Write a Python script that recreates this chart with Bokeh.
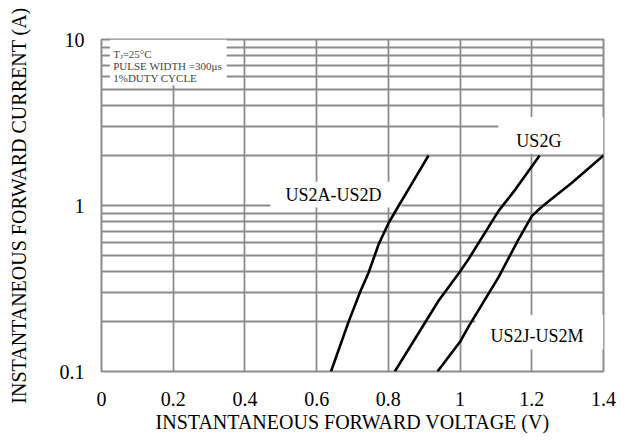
from bokeh.plotting import figure
from bokeh.models import FixedTicker, Label
from bokeh.embed import file_html
from bokeh.resources import INLINE

# ---------------- data ----------------
x_ticks = [0, 0.2, 0.4, 0.6, 0.8, 1.0, 1.2, 1.4]
x_tick_labels = ["0", "0.2", "0.4", "0.6", "0.8", "1", "1.2", "1.4"]
y_ticks = [0.1, 1, 10]
y_tick_labels = ["0.1", "1", "10"]
y_grid = [0.1, 0.2, 0.3, 0.4, 0.5, 0.6, 0.7, 0.8, 0.9,
          1, 2, 3, 4, 5, 6, 7, 8, 9, 10]

us2a_v = [0.640, 0.689, 0.721, 0.745, 0.773, 0.801, 0.828, 0.861, 0.912]
us2a_i = [0.1, 0.199, 0.300, 0.395, 0.584, 0.787, 0.99, 1.305, 2.0]

us2g_v = [0.818, 0.94, 1.0, 1.024, 1.107, 1.154, 1.222]
us2g_i = [0.1, 0.267, 0.40, 0.477, 0.925, 1.247, 2.0]

us2j_v = [0.937, 1.0, 1.024, 1.107, 1.163, 1.200, 1.225, 1.247, 1.312, 1.40]
us2j_i = [0.1, 0.151, 0.187, 0.369, 0.625, 0.863, 0.97, 1.06, 1.37, 2.0]

series_names = ["US2A-US2D", "US2G", "US2J-US2M"]
note_lines = ["PULSE WIDTH =300\u03bcs", "1%DUTY CYCLE"]

FONT = "Liberation Serif"
GRID = "#8c8c8c"

p = figure(width=616, height=435, x_range=(0, 1.4), y_range=(0.1, 10),
           y_axis_type="log", output_backend="svg", toolbar_location=None,
           min_border_left=101, min_border_right=13, min_border_top=39,
           min_border_bottom=62)
p.background_fill_color = "white"
p.border_fill_color = "white"
p.outline_line_color = GRID
p.outline_line_width = 2

# axes
p.xaxis.ticker = FixedTicker(ticks=x_ticks)
p.xaxis.major_label_overrides = {t: l for t, l in zip(x_ticks, x_tick_labels)}
p.yaxis.ticker = FixedTicker(ticks=y_ticks)
p.yaxis.major_label_overrides = {t: l for t, l in zip(y_ticks, y_tick_labels)}
for ax in (p.xaxis, p.yaxis):
    ax.axis_line_color = None
    ax.major_tick_line_color = None
    ax.minor_tick_line_color = None
    ax.major_label_text_font = FONT
    ax.major_label_text_font_size = "20px"
    ax.major_label_text_color = "black"
    ax.axis_label_text_font = FONT
    ax.axis_label_text_font_size = "20px"
    ax.axis_label_text_font_style = "normal"
    ax.axis_label_text_color = "black"
p.xaxis.axis_label = "INSTANTANEOUS FORWARD VOLTAGE (V)"
p.yaxis.axis_label = "INSTANTANEOUS FORWARD CURRENT (A)"
p.xaxis.major_label_standoff = 14
p.xaxis.axis_label_standoff = 2
p.yaxis.major_label_standoff = 11
p.yaxis.axis_label_standoff = 27

# grid
p.xgrid.ticker = FixedTicker(ticks=x_ticks)
p.ygrid.ticker = FixedTicker(ticks=y_grid)
for g in (p.xgrid, p.ygrid):
    g.grid_line_color = GRID
    g.grid_line_width = 1.8
    g.grid_line_alpha = 1.0

# white label backgrounds (cover grid lines)
p.quad(left=[0.0234, 0.471, 1.107, 1.043], right=[0.349, 0.836, 1.4, 1.4],
       top=[10, 1.392, 3.41, 0.219], bottom=[5.30, 0.973, 2.05, 0.1355],
       fill_color="white", line_color=None)

# curves
for v, i in ((us2a_v, us2a_i), (us2g_v, us2g_i), (us2j_v, us2j_i)):
    p.line(v, i, line_color="black", line_width=2.6)

# curve labels
label_pos = [(0.513, 1.156), (1.157, 2.43), (1.085, 0.1643)]
for name, (lx, ly) in zip(series_names, label_pos):
    p.add_layout(Label(x=lx, y=ly, text=name, text_font=FONT,
                       text_font_size="18px", text_baseline="middle",
                       text_align="left", text_color="black"))

# conditions note
p.add_layout(Label(x=0.0327, y=8.13, text="T", text_font=FONT,
                   text_font_size="11px", text_baseline="middle"))
p.add_layout(Label(x=0.0327, y=8.13, x_offset=6.7, y_offset=-2.5, text="J",
                   text_font=FONT, text_font_size="7px", text_baseline="middle"))
p.add_layout(Label(x=0.0327, y=8.13, x_offset=9.4, text="=25\u00b0C",
                   text_font=FONT, text_font_size="11px", text_baseline="middle"))
for txt, ly in zip(note_lines, [6.96, 5.88]):
    p.add_layout(Label(x=0.0327, y=ly, text=txt, text_font=FONT,
                       text_font_size="11px", text_baseline="middle"))

open("out.html", "w").write(file_html(p, INLINE))
